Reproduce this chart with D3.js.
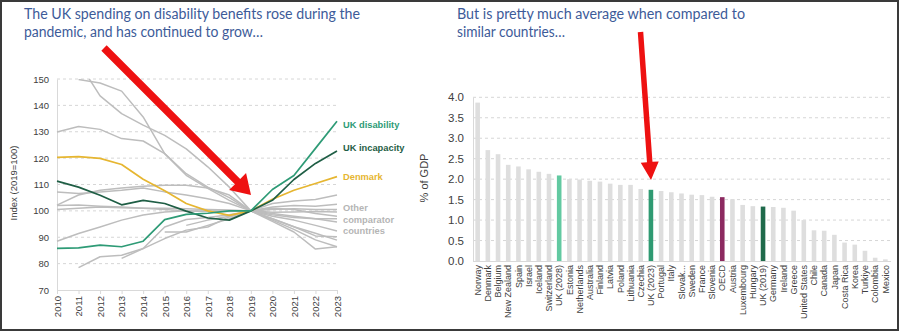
<!DOCTYPE html>
<html>
<head>
<meta charset="utf-8">
<script src="https://cdn.jsdelivr.net/npm/d3@7/dist/d3.min.js"></script>
<style>
    body { margin: 0; background: #fff; }
    svg { display: block; font-family: "Liberation Sans", Arial, sans-serif; }
</style>
</head>
<body>
<div id="chart"></div>
<script>
// ---- left panel: index of benefit spending (2019 = 100)
const years = [2010, 2011, 2012, 2013, 2014, 2015, 2016, 2017, 2018, 2019, 2020, 2021, 2022, 2023];
const indexTicks = [70, 80, 90, 100, 110, 120, 130, 140, 150];

const ukDisability = [85.8, 86, 87, 86.4, 88.5, 96.7, 98.7, 99.1, 100, 100, 108.1, 113.4, 123.7, 134];
const ukIncapacity = [111.3, 109, 105.9, 102.3, 104, 102.8, 99.9, 97.3, 96.5, 100, 104, 111.9, 118, 122.7];
const denmark = [120.3, 120.6, 119.9, 117.6, 112, 107.6, 102.8, 100, 98.3, 100, 104.4, 107.8, 110.4, 113];

// other comparator countries, one row per country (null = no data)
const comparators = [
    [null, 149.8, 148.5, 145.4, 135.6, 121.7, 113.5, 108.5, 104, 100, 97, 94, 90.5, 90.2],
    [null, 156.4, 143.6, 136.9, 132.5, 128.6, 123.5, 116.7, 109, 100, 96.5, 93, 89, 86.4],
    [129.9, 132, 130.9, 127.4, 126.5, 121.7, 114.1, 109, 105, 100, 98, 96.5, 94.5, 92.4],
    [102.2, 106, 107.8, 108.7, 109.3, 109.7, 109.7, 108.7, 106, 100, 101.5, 102, 101.8, 102.5],
    [107.2, 106.6, 107.2, 107.8, 108.7, 107.2, 106, 104.6, 102.8, 100, 98.5, 97.5, 97, 97],
    [102, 102.2, 101.8, 101.5, 101, 101, 100.8, 100.5, 100.3, 100, 102.8, 103.7, 104.3, 106],
    [100.5, 101, 101.5, 101.2, 101, 100.5, 100, 99.8, 99.8, 100, 100.5, 100.8, 100.5, 100.5],
    [88.5, 91.4, 93.9, 96.5, 98.4, 99.6, 100, 100, 100, 100, 99, 98, 97, 95.8],
    [null, 78.5, 82.6, 83.2, 85.7, 89.5, 92.7, 93.9, 97.7, 100, 99.5, 99.6, 99.8, 99.6],
    [null, null, null, 82, 85.7, 93.9, 96.7, 97.5, 98.5, 100, 97, 94, 91.5, 88.9],
    [null, null, null, null, null, 92, 92, 94.5, 97, 100, 96, 92, 85.5, 86.4],
    [null, null, null, null, null, null, 94.5, 96.5, 98, 100, 101, 100.5, 99, 98]
];

// ---- right panel: spending as % of GDP
const countries = ["Norway", "Denmark", "Belgium", "New Zealand", "Spain", "Israel", "Iceland",
    "Switzerland", "UK (2028)", "Estonia", "Netherlands", "Australia", "Finland", "Latvia", "Poland",
    "Lithuania", "Czechia", "UK (2023)", "Portugal", "Italy", "Slovak...", "Sweden", "France",
    "Slovenia", "OECD", "Austria", "Luxembourg", "Hungary", "UK (2019)", "Germany", "Ireland",
    "Greece", "United States", "Chile", "Canada", "Japan", "Costa Rica", "Korea", "Turkiye",
    "Colombia", "Mexico"];
const gdpShare = [3.87, 2.71, 2.61, 2.35, 2.31, 2.24, 2.18, 2.13, 2.09, 2.0, 1.99, 1.96, 1.94, 1.89,
    1.86, 1.86, 1.76, 1.74, 1.71, 1.68, 1.65, 1.62, 1.61, 1.57, 1.56, 1.51, 1.37, 1.34, 1.33, 1.32,
    1.30, 1.23, 1.0, 0.75, 0.74, 0.64, 0.45, 0.40, 0.25, 0.08, 0.04];
const gdpTicks = [0, 0.5, 1, 1.5, 2, 2.5, 3, 3.5, 4];

const barColour = {
    "UK (2028)": "#62c9a1",
    "UK (2023)": "#2f9a72",
    "OECD": "#8c2a60",
    "UK (2019)": "#1f6a4b"
};

const W = 903, H = 332;
const gridCol = "#d6d6d6", axisCol = "#d9d9d9", textCol = "#404040", titleCol = "#3d5b99";

const svg = d3.select("#chart").append("svg")
    .attr("width", W)
    .attr("height", H);

svg.append("rect").attr("width", W).attr("height", H).attr("fill", "#fff");

// titles
const titles = [
    {x: 24, y: 18.5, t: "The UK spending on disability benefits rose during the", w: 336},
    {x: 24, y: 37, t: "pandemic, and has continued to grow\u2026", w: 239},
    {x: 457, y: 18.5, t: "But is pretty much average when compared to", w: 288},
    {x: 457, y: 37, t: "similar countries\u2026", w: 108}
];
svg.selectAll(".title").data(titles).join("text")
    .attr("class", "title")
    .attr("x", d => d.x)
    .attr("y", d => d.y)
    .attr("textLength", d => d.w)
    .attr("lengthAdjust", "spacingAndGlyphs")
    .style("font-family", "Lato, 'Open Sans', sans-serif")
    .style("font-size", "15.5px")
    .attr("fill", titleCol)
    .text(d => d.t);

// ================= left: line chart =================
const xL = d3.scaleLinear().domain([2010, 2023]).range([57, 337]);
const yL = d3.scaleLinear().domain([70, 150]).range([290, 79]);

const left = svg.append("g");

left.selectAll(".gridL").data(indexTicks.slice(1)).join("line")
    .attr("x1", xL(2010)).attr("x2", xL(2023))
    .attr("y1", d => yL(d)).attr("y2", d => yL(d))
    .attr("stroke", gridCol)
    .attr("stroke-dasharray", "3,3");

left.append("g")
    .attr("transform", `translate(${xL(2010)},0)`)
    .call(d3.axisLeft(yL).tickValues(indexTicks).tickSize(0).tickPadding(8))
    .call(g => g.select(".domain").attr("stroke", axisCol))
    .call(g => g.selectAll("text").attr("fill", textCol).style("font-size", "9.5px"));

left.append("g")
    .attr("transform", `translate(0,${yL(70)})`)
    .call(d3.axisBottom(xL).tickValues(years).tickFormat(d3.format("d")).tickSize(4).tickSizeOuter(0))
    .call(g => g.select(".domain").attr("stroke", axisCol))
    .call(g => g.selectAll(".tick line").attr("stroke", axisCol))
    .call(g => g.selectAll("text")
        .attr("fill", textCol)
        .style("font-size", "9.5px")
        .attr("transform", "rotate(-90)")
        .attr("text-anchor", "end")
        .attr("x", -6)
        .attr("y", 0)
        .attr("dy", "0.35em"));

left.append("text")
    .attr("transform", `translate(17,183) rotate(-90)`)
    .attr("text-anchor", "middle")
    .attr("fill", textCol)
    .style("font-size", "9.5px")
    .text("Index (2019=100)");

svg.append("clipPath").attr("id", "plotL")
    .append("rect")
    .attr("x", xL(2010) - 2).attr("y", yL(150))
    .attr("width", xL(2023) - xL(2010) + 4).attr("height", yL(70) - yL(150));

const line = d3.line()
    .defined(d => d != null)
    .x((d, i) => xL(years[i]))
    .y(d => yL(d));

const lines = left.append("g").attr("clip-path", "url(#plotL)").attr("fill", "none")
    .attr("stroke-linejoin", "round");

lines.selectAll(".other").data(comparators).join("path")
    .attr("class", "other")
    .attr("d", line)
    .attr("stroke", "#bdbdbd")
    .attr("stroke-width", 1.5);

const mainSeries = [
    {v: denmark, c: "#e6b631"},
    {v: ukIncapacity, c: "#1f5e45"},
    {v: ukDisability, c: "#2e9b76"}
];
lines.selectAll(".main").data(mainSeries).join("path")
    .attr("class", "main")
    .attr("d", d => line(d.v))
    .attr("stroke", d => d.c)
    .attr("stroke-width", 1.7);

// series labels at the right end
const lx = xL(2023) + 6;
const labels = [
    {t: ["UK disability"], y: yL(ukDisability[13]) + 4, c: "#2e9b76"},
    {t: ["UK incapacity"], y: yL(ukIncapacity[13]) - 3, c: "#1f5e45"},
    {t: ["Denmark"], y: yL(denmark[13]), c: "#e6b631"},
    {t: ["Other", "comparator", "countries"], y: yL(101), c: "#b5b5b5"}
];
labels.forEach(l => {
    const txt = left.append("text")
        .attr("x", lx)
        .attr("y", l.y)
        .attr("dy", "0.35em")
        .attr("fill", l.c)
        .style("font-size", "9.3px")
        .style("font-weight", "bold");
    l.t.forEach((s, i) => txt.append("tspan").attr("x", lx).attr("dy", i === 0 ? "0.35em" : "1.23em").text(s));
});

// ================= right: bar chart =================
const xR = d3.scaleBand().domain(countries).range([472.5, 890.5]).paddingInner(0.55).paddingOuter(0.28);
const yR = d3.scaleLinear().domain([0, 4]).range([261, 97.3]);

const right = svg.append("g");

right.selectAll(".gridR").data(gdpTicks.slice(1)).join("line")
    .attr("x1", 473).attr("x2", 892)
    .attr("y1", d => yR(d)).attr("y2", d => yR(d))
    .attr("stroke", gridCol)
    .attr("stroke-dasharray", "3,3");

right.selectAll(".bar").data(countries).join("rect")
    .attr("class", "bar")
    .attr("x", d => xR(d))
    .attr("width", xR.bandwidth())
    .attr("y", (d, i) => yR(gdpShare[i]))
    .attr("height", (d, i) => yR(0) - yR(gdpShare[i]))
    .attr("fill", d => barColour[d] || "#dedede");

right.append("g")
    .attr("transform", "translate(473,0)")
    .call(d3.axisLeft(yR).tickValues(gdpTicks).tickFormat(d3.format(".1f")).tickSize(0).tickPadding(9))
    .call(g => g.select(".domain").attr("stroke", axisCol))
    .call(g => g.selectAll("text").attr("fill", textCol).style("font-size", "11.5px"));

right.append("g")
    .attr("transform", `translate(0,${yR(0)})`)
    .call(d3.axisBottom(xR).tickSize(0).tickSizeOuter(0))
    .call(g => g.select(".domain").attr("stroke", axisCol))
    .call(g => g.selectAll("text")
        .attr("fill", textCol)
        .style("font-size", "9px")
        .attr("transform", "rotate(-90)")
        .attr("text-anchor", "end")
        .attr("x", -4)
        .attr("y", 0)
        .attr("dy", "0.35em"));

right.append("text")
    .attr("transform", "translate(428,178) rotate(-90)")
    .attr("text-anchor", "middle")
    .attr("fill", textCol)
    .style("font-size", "11px")
    .text("% of GDP");

// ================= red call-out arrows =================
function arrow(x0, y0, x1, y1, shaft, headLen, headHalf) {
    const dx = x1 - x0, dy = y1 - y0, len = Math.hypot(dx, dy);
    const ux = dx / len, uy = dy / len, px = -uy, py = ux;
    const bx = x1 - ux * headLen, by = y1 - uy * headLen;
    const s = shaft / 2;
    const pts = [
        [x0 + px * s, y0 + py * s],
        [bx + px * s, by + py * s],
        [bx + px * headHalf, by + py * headHalf],
        [x1, y1],
        [bx - px * headHalf, by - py * headHalf],
        [bx - px * s, by - py * s],
        [x0 - px * s, y0 - py * s]
    ];
    svg.append("path")
        .attr("d", d3.line()(pts) + "Z")
        .attr("fill", "#ee1111");
}
arrow(104, 48, 251, 195, 7.5, 19, 12);
arrow(640.5, 32, 651, 180, 5.5, 18, 9);

// outer frame
svg.append("rect")
    .attr("x", 1).attr("y", 1)
    .attr("width", 897).attr("height", 329)
    .attr("fill", "none")
    .attr("stroke", "#3a3a3a")
    .attr("stroke-width", 2);
</script>
</body>
</html>
